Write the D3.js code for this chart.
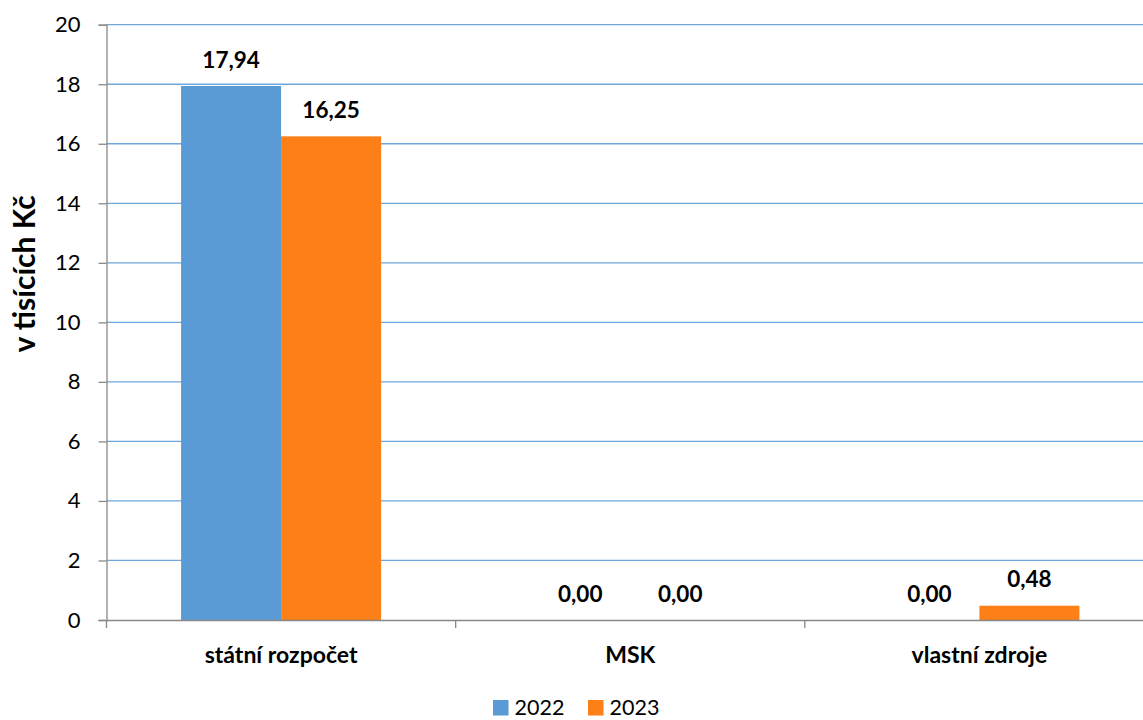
<!DOCTYPE html>
<html><head><meta charset="utf-8">
<script src="https://cdn.jsdelivr.net/npm/d3@7"></script>
<style>body{margin:0;background:#fff}svg{display:block}text{font-family:Lato,"Open Sans",sans-serif}</style>
</head><body><svg id="c" width="1143" height="720"></svg>
<script>
const categories = ["státní rozpočet", "MSK", "vlastní zdroje"];
const seriesNames = ["2022", "2023"];
const values2022 = [17.94, 0.00, 0.00];
const values2023 = [16.25, 0.00, 0.48];
const yTicks = [0, 2, 4, 6, 8, 10, 12, 14, 16, 18, 20];
const colors = ["#5B9BD5", "#FD7F17"];

const svg = d3.select("#c");
const pLeft = 106.5, pRight = 1154, pTop = 24.7, pBottom = 620;
const x = d3.scaleBand().domain(categories).range([pLeft, pRight]).paddingInner(0).paddingOuter(0);
const y = d3.scaleLinear().domain([0, 20]).range([pBottom, pTop]);
const series = [values2022, values2023];
const barW = 100;
const groupW = barW * 2;

// gridlines
svg.append("g").selectAll("line").data(yTicks.filter(d => d > 0)).join("line")
  .attr("x1", pLeft).attr("x2", pRight).attr("y1", d => y(d)).attr("y2", d => y(d))
  .attr("stroke", "#6FA6DC").attr("stroke-width", 1.3);

// bars
series.forEach((vals, si) => {
  svg.append("g").selectAll("rect").data(vals).join("rect")
    .attr("x", (d, i) => x(categories[i]) + x.bandwidth()/2 - groupW/2 + si*barW)
    .attr("width", barW)
    .attr("y", d => y(d)).attr("height", d => y(0) - y(d))
    .attr("fill", colors[si]);
  svg.append("g").selectAll("text").data(vals).join("text")
    .attr("x", (d, i) => x(categories[i]) + x.bandwidth()/2 - groupW/2 + si*barW + barW/2)
    .attr("y", d => y(d) - 18.5)
    .attr("text-anchor", "middle").attr("font-size", 22.5).attr("font-weight", "bold").attr("fill", "#000")
    .text(d => d.toFixed(2).replace(".", ","));
});

// y axis
const ya = svg.append("g").attr("transform", `translate(${pLeft},0)`)
  .call(d3.axisLeft(y).tickValues(yTicks).tickSize(8).tickPadding(18).tickFormat(d => d));
ya.select(".domain").attr("stroke", "#898989").attr("stroke-width", 1.3);
ya.selectAll(".tick line").attr("stroke", "#898989").attr("stroke-width", 1.3);
ya.selectAll(".tick text").attr("font-size", 22).attr("fill", "#000").attr("font-family", "Lato,sans-serif");

// x axis
const xa = svg.append("g").attr("transform", `translate(0,${pBottom})`)
  .call(d3.axisBottom(x).tickSize(0).tickPadding(26.5));
xa.select(".domain").attr("stroke", "#898989").attr("stroke-width", 1.3);
xa.selectAll(".tick text").attr("font-size", 23).attr("font-weight", "bold").attr("fill", "#000").attr("font-family", "Lato,sans-serif");
// category boundary ticks
svg.append("g").selectAll("line").data(categories).join("line")
  .attr("x1", d => x(d)).attr("x2", d => x(d)).attr("y1", pBottom).attr("y2", pBottom + 8)
  .attr("stroke", "#898989").attr("stroke-width", 1.3);

// y label
svg.append("text").attr("transform", "translate(35,274) rotate(-90)")
  .attr("text-anchor", "middle").attr("font-size", 30).attr("font-weight", "bold").text("v tisících Kč");

// legend
const lg = svg.append("g");
const legX = [493, 588];
seriesNames.forEach((n, i) => {
  lg.append("rect").attr("x", legX[i]).attr("y", 700).attr("width", 15.5).attr("height", 15.5).attr("fill", colors[i]);
  lg.append("text").attr("x", legX[i] + 21.5).attr("y", 715).attr("font-size", 21.5).text(n);
});
</script></body></html>
